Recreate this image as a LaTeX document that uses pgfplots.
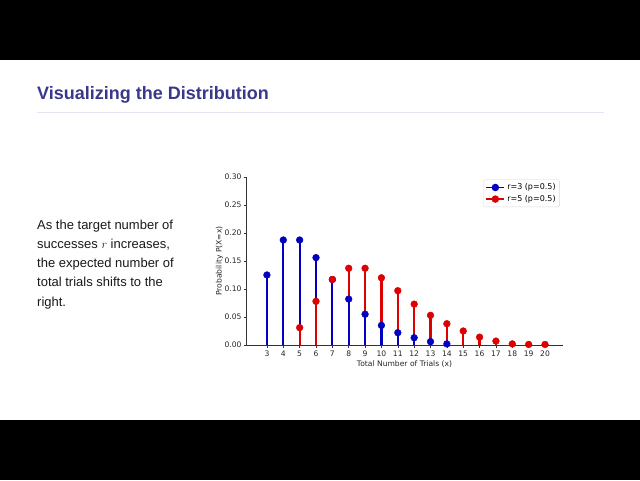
\documentclass[border=0pt]{standalone}
\usepackage{fontspec}
\setmainfont{Liberation Sans}
\newfontfamily\dejavu{DejaVu Sans}
\usepackage{pgfplots}
\pgfplotsset{compat=1.18}
\usepackage{pgfplotstable}

\definecolor{titleblue}{RGB}{58,56,138}
\definecolor{sepline}{RGB}{228,228,242}
\definecolor{stemblue}{RGB}{0,0,190}
\definecolor{stemred}{RGB}{220,0,0}
\definecolor{bodytext}{RGB}{25,25,25}

% r=3, p=0.5
\pgfplotstableread{
x p
3 0.125
4 0.1875
5 0.1875
6 0.156
7 0.117
8 0.082
9 0.055
10 0.035
11 0.022
12 0.013
13 0.006
14 0.002
}\rthree

% r=5, p=0.5
\pgfplotstableread{
x p
5 0.031
6 0.078
7 0.117
8 0.137
9 0.137
10 0.120
11 0.097
12 0.073
13 0.053
14 0.038
15 0.025
16 0.014
17 0.007
18 0.002
19 0.001
20 0.001
}\rfive

\begin{document}
\begin{tikzpicture}
\useasboundingbox (0pt,0pt) rectangle (640pt,480pt);
\fill[white] (0pt,60pt) rectangle (640pt,420pt);
\fill[black] (0pt,0pt) rectangle (640pt,60pt);
\fill[black] (0pt,420pt) rectangle (640pt,480pt);

% slide title and rule
\node[anchor=base west, inner sep=0, text=titleblue,
      font=\fontsize{18}{22}\selectfont\bfseries] at (37pt,380pt) {Visualizing the Distribution};
\draw[sepline, line width=0.8pt] (37pt,367.7pt) -- (604pt,367.7pt);

% side text
\begin{scope}[every node/.style={anchor=base west, inner sep=0, text=bodytext,
      font=\fontsize{13}{16}\selectfont}]
\node at (37pt,251.0pt) {As the target number of};
\node at (37pt,231.7pt) {successes $r$ increases,};
\node at (37pt,212.4pt) {the expected number of};
\node at (37pt,193.1pt) {total trials shifts to the};
\node at (37pt,173.8pt) {right.};
\end{scope}

\begin{axis}[
  at={(246pt,135pt)}, anchor=south west,
  scale only axis, width=317pt, height=168pt,
  xmin=1.72, xmax=21.1,
  ymin=0, ymax=0.30,
  xtick={3,4,...,20},
  ytick={0,0.05,...,0.30},
  yticklabel style={xshift=1.5pt, /pgf/number format/.cd, fixed, fixed zerofill, precision=2},
  /pgf/number format/assume math mode=true,
  axis lines*=left,
  axis line style={black!80, line width=0.6pt},
  tick style={black!80, line width=0.5pt},
  tick align=outside, major tick length=2.5pt,
  tick label style={font=\dejavu\fontsize{7.6}{9}\selectfont, text=black!85},
  label style={font=\dejavu\fontsize{7.6}{9}\selectfont, text=black!85},
  xlabel={Total Number of Trials (x)},
  ylabel={Probability P(X=x)},
  xlabel style={yshift=3pt},
  ylabel style={yshift=-5.5pt},
  legend style={at={(0.99,0.985)}, anchor=north east, draw=black!15,
    rounded corners=1.5pt, font=\dejavu\fontsize{8}{9.5}\selectfont,
    inner xsep=2pt, inner ysep=2pt, row sep=0pt},
  legend cell align=left,
  legend image code/.code={\draw[mark repeat=2, mark phase=2]
    plot coordinates {(0pt,0pt) (9pt,0pt) (18pt,0pt)};},
  clip=false,
]
\addlegendimage{stemblue, line width=1.8pt, mark=*, mark size=2.8pt}
\addlegendentry{r=3 (p=0.5)}
\addlegendimage{stemred, line width=1.8pt, mark=*, mark size=2.8pt}
\addlegendentry{r=5 (p=0.5)}

% stems: the shorter stem stays on top at each x
\addplot[ycomb, stemred, line width=2.2pt, no marks, forget plot] table[x=x, y=p] {\rfive};
\addplot[ycomb, stemblue, line width=2.2pt, no marks, forget plot] table[x=x, y=p] {\rthree};
\addplot[ycomb, stemred, line width=2.2pt, no marks, forget plot,
  restrict x to domain=5:6] table[x=x, y=p] {\rfive};

% markers
\addplot[only marks, mark=*, mark size=3.4pt, stemblue, forget plot] table[x=x, y=p] {\rthree};
\addplot[only marks, mark=*, mark size=3.4pt, stemred, forget plot] table[x=x, y=p] {\rfive};
\end{axis}
\end{tikzpicture}
\end{document}
